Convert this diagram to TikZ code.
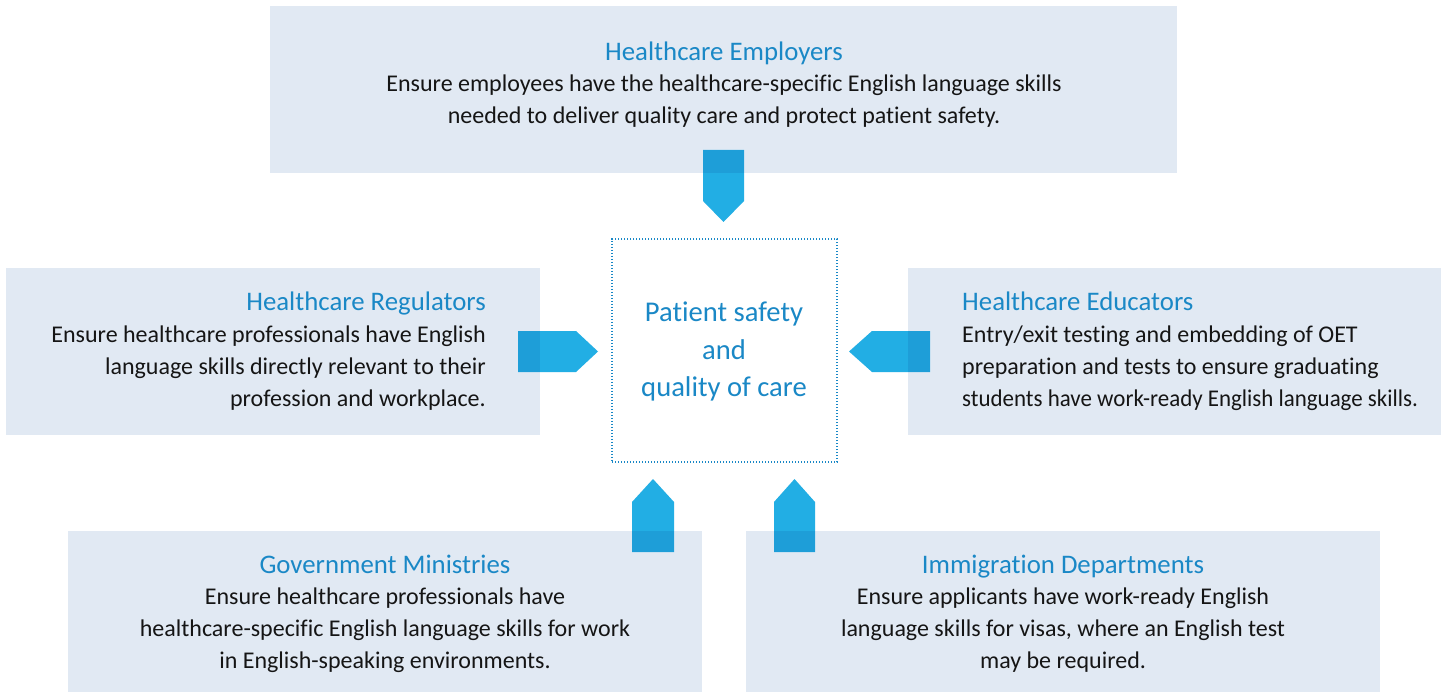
\documentclass[tikz,border=0pt]{standalone}
\usepackage{fontspec}
\setmainfont{Carlito}[Ligatures=NoCommon]
\definecolor{boxfill}{HTML}{E1E9F3}
\definecolor{titleblue}{HTML}{1A88C6}
\definecolor{arrowc}{HTML}{22AEE4}
\definecolor{arrowd}{HTML}{1E9ED8}
\definecolor{bodytext}{HTML}{151515}
\begin{document}
\begin{tikzpicture}[x=1pt,y=-1pt,
  panel/.style={fill=boxfill, draw=none},
  blockarrow/.style={fill=arrowc, draw=none},
  overlap/.style={fill=arrowd, draw=none},
  ttl/.style={text=titleblue, font=\fontsize{26.8}{30}\selectfont, inner sep=0pt},
  txt/.style={text=bodytext, font=\fontsize{24}{28}\selectfont, inner sep=0pt},
  core/.style={text=titleblue, font=\fontsize{28.6}{34}\selectfont, inner sep=0pt, anchor=base},
  corebox/.style={draw=titleblue, line width=1.2pt, dash pattern=on 1.2pt off 1.8pt, fill=white, minimum width=225pt, minimum height=223pt, inner sep=0pt}
]
\useasboundingbox (0,0) rectangle (1447,692);
\fill[white] (0,0) rectangle (1447,692);

% panels
\path[panel] (270,6) rectangle (1177,173);
\path[panel] (6,268) rectangle (540,435);
\path[panel] (908,268) rectangle (1441,435);
\path[panel] (68,531) rectangle (702,692);
\path[panel] (746,531) rectangle (1380,692);

% centre box
\node[corebox] (centre) at (724.5,350.5) {};
\node[core] (c1) at (724,322) {Patient safety};
\node[core] (c2) at (724,359) {and};
\node[core] (c3) at (724,396) {quality of care};

% arrows
\path[blockarrow] (703,150) -- (744,150) -- (744,201) -- (723.5,222) -- (703,201) -- cycle;
\path[overlap] (703,150) rectangle (744,173);
\path[blockarrow] (518,331) -- (576,331) -- (598,351.5) -- (576,372) -- (518,372) -- cycle;
\path[overlap] (518,331) rectangle (540,372);
\path[blockarrow] (930,331) -- (872,331) -- (849,351.5) -- (872,372) -- (930,372) -- cycle;
\path[overlap] (908,331) rectangle (930,372);
\path[blockarrow] (632,552) -- (632,502) -- (653,479) -- (674,502) -- (674,552) -- cycle;
\path[overlap] (632,531) rectangle (674,552);
\path[blockarrow] (774,552) -- (774,502) -- (794.5,479) -- (815,502) -- (815,552) -- cycle;
\path[overlap] (774,531) rectangle (815,552);

% top
\node[ttl, anchor=base] (empT) at (724,61) {Healthcare Employers};
\node[txt, anchor=base] (emp1) at (724,92) {Ensure employees have the healthcare-specific English language skills};
\node[txt, anchor=base] (emp2) at (724,124) {needed to deliver quality care and protect patient safety.};

% left
\node[ttl, anchor=base east] (regT) at (486,311) {Healthcare Regulators};
\node[txt, anchor=base east] (reg1) at (486,342) {Ensure healthcare professionals have English};
\node[txt, anchor=base east] (reg2) at (486,374) {language skills directly relevant to their};
\node[txt, anchor=base east] (reg3) at (486,406) {profession and workplace.};

% right
\node[ttl, anchor=base west] (eduT) at (962,311) {Healthcare Educators};
\node[txt, anchor=base west] (edu1) at (962,342) {Entry/exit testing and embedding of OET};
\node[txt, anchor=base west] (edu2) at (962,374) {preparation and tests to ensure graduating};
\node[txt, anchor=base west] (edu3) at (962,406) {\scalebox{0.956}[1]{students have work-ready English language skills.}};

% bottom left
\node[ttl, anchor=base] (govT) at (385,573) {Government Ministries};
\node[txt, anchor=base] (gov1) at (385,604) {Ensure healthcare professionals have};
\node[txt, anchor=base] (gov2) at (385,636) {healthcare-specific English language skills for work};
\node[txt, anchor=base] (gov3) at (385,668) {in English-speaking environments.};

% bottom right
\node[ttl, anchor=base] (immT) at (1063,573) {Immigration Departments};
\node[txt, anchor=base] (imm1) at (1063,604) {Ensure applicants have work-ready English};
\node[txt, anchor=base] (imm2) at (1063,636) {language skills for visas, where an English test};
\node[txt, anchor=base] (imm3) at (1063,668) {may be required.};
\end{tikzpicture}
\end{document}
